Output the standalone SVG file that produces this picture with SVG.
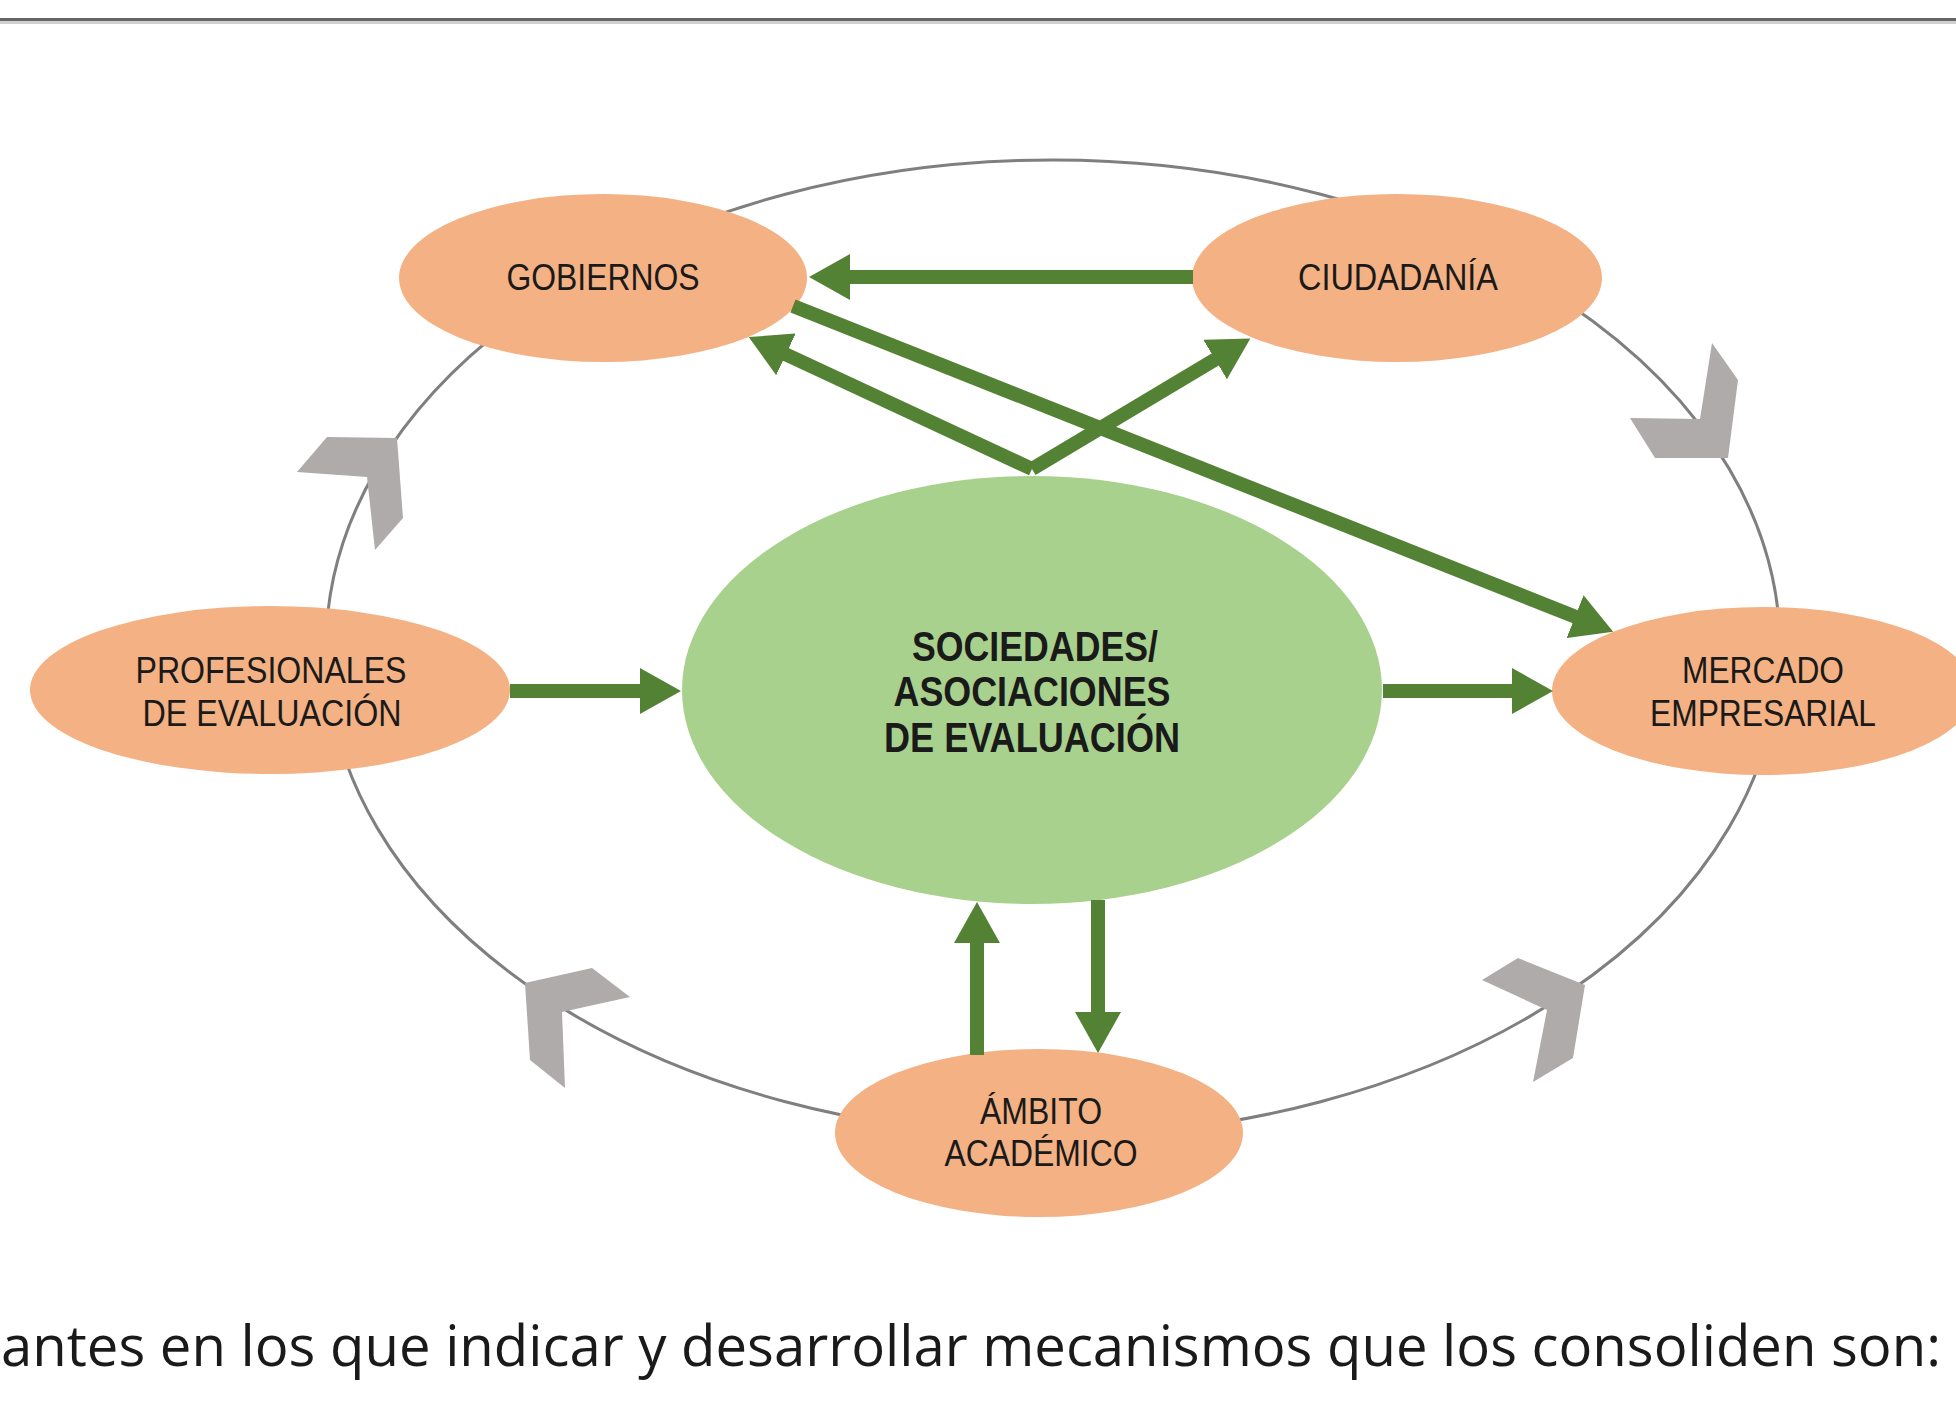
<svg xmlns="http://www.w3.org/2000/svg" width="1956" height="1401" viewBox="0 0 1956 1401">
<defs>
<style>
.bg{fill:#ffffff}
.ring{fill:none;stroke:#7f7f7f;stroke-width:3}
.chev{fill:#afabab}
.peach{fill:#f4b183}
.core{fill:#a9d18e}
.lbl{font-family:"Liberation Sans",Arial,sans-serif;font-size:37px;fill:#1a1a1a;text-anchor:middle}
.lblb{font-family:"Liberation Sans",Arial,sans-serif;font-size:42px;font-weight:bold;fill:#1a1a1a;text-anchor:middle}
.conn{fill:none;stroke:#548235;stroke-width:14;marker-end:url(#ah)}
.body{font-family:"Open Sans","Noto Sans",sans-serif;font-size:56px;fill:#1a1a1a}
</style>
<marker id="ah" markerUnits="userSpaceOnUse" markerWidth="41" markerHeight="46" viewBox="0 0 41 46" refX="1" refY="23" orient="auto">
<path d="M0,0 L41,23 L0,46 z" fill="#548235"/>
</marker>
</defs>
<rect class="bg" x="0" y="0" width="1956" height="1401"/>
<rect x="0" y="18" width="1956" height="3" fill="#666666"/>
<rect x="0" y="21" width="1956" height="3" fill="#d0d0d0"/>

<g id="cycle">
<ellipse class="ring" cx="1053" cy="648" rx="727" ry="488"/>
<polygon class="chev" points="327,437 397,438 403,518 375,550 367,477 297,472"/>
<polygon class="chev" points="1712,343 1738,380 1728,458 1655,458 1630,418 1700,419"/>
<polygon class="chev" points="525,983 592,968 630,997 562,1012 565,1088 530,1060"/>
<polygon class="chev" points="1518,958 1585,985 1573,1058 1533,1082 1547,1010 1482,980"/>
</g>

<g id="node-gobiernos">
<ellipse class="peach" cx="603" cy="278" rx="204" ry="84"/>
<text class="lbl" x="603" y="290" textLength="193" lengthAdjust="spacingAndGlyphs">GOBIERNOS</text>
</g>
<g id="node-ciudadania">
<ellipse class="peach" cx="1397" cy="278" rx="205" ry="84"/>
<text class="lbl" x="1398" y="290" textLength="200" lengthAdjust="spacingAndGlyphs">CIUDADANÍA</text>
</g>
<g id="node-profesionales">
<ellipse class="peach" cx="270" cy="690" rx="240" ry="84"/>
<text class="lbl" x="271" y="683" textLength="271" lengthAdjust="spacingAndGlyphs">PROFESIONALES</text>
<text class="lbl" x="272" y="726" textLength="259" lengthAdjust="spacingAndGlyphs">DE EVALUACIÓN</text>
</g>
<g id="node-mercado">
<ellipse class="peach" cx="1763" cy="691" rx="211" ry="84"/>
<text class="lbl" x="1763" y="683" textLength="162" lengthAdjust="spacingAndGlyphs">MERCADO</text>
<text class="lbl" x="1763" y="726" textLength="226" lengthAdjust="spacingAndGlyphs">EMPRESARIAL</text>
</g>
<g id="node-ambito">
<ellipse class="peach" cx="1039" cy="1133" rx="204" ry="84"/>
<text class="lbl" x="1041" y="1124" textLength="122" lengthAdjust="spacingAndGlyphs">ÁMBITO</text>
<text class="lbl" x="1041" y="1166" textLength="193" lengthAdjust="spacingAndGlyphs">ACADÉMICO</text>
</g>
<g id="node-sociedades">
<ellipse class="core" cx="1032" cy="690" rx="350" ry="214"/>
<text class="lblb" x="1035" y="661" textLength="246" lengthAdjust="spacingAndGlyphs">SOCIEDADES/</text>
<text class="lblb" x="1032" y="706" textLength="277" lengthAdjust="spacingAndGlyphs">ASOCIACIONES</text>
<text class="lblb" x="1032" y="752" textLength="296" lengthAdjust="spacingAndGlyphs">DE EVALUACIÓN</text>
</g>

<g id="connectors">
<line class="conn" x1="1193" y1="277" x2="849" y2="277"/>
<line class="conn" x1="510" y1="691" x2="641" y2="691"/>
<line class="conn" x1="1383" y1="691" x2="1513" y2="691"/>
<line class="conn" x1="977" y1="1055" x2="977" y2="942"/>
<line class="conn" x1="1098" y1="900" x2="1098" y2="1013"/>
<line class="conn" x1="1032" y1="469" x2="785" y2="354"/>
<line class="conn" x1="1032" y1="469" x2="1216" y2="359"/>
<line class="conn" x1="793" y1="306" x2="1576" y2="617"/>
</g>

<text class="body" x="1" y="1366" textLength="1940" lengthAdjust="spacingAndGlyphs">antes en los que indicar y desarrollar mecanismos que los consoliden son:</text>
</svg>
